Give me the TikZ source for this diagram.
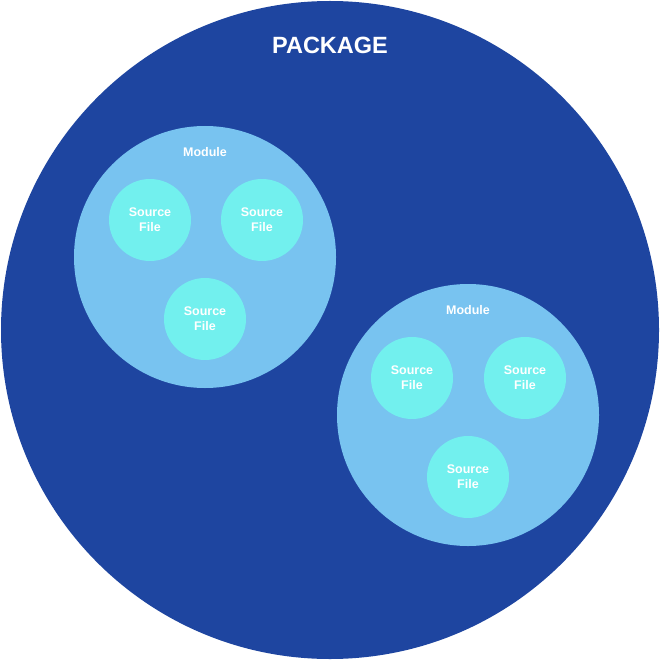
\documentclass[tikz,border=0pt]{standalone}
\usepackage{fontspec}
\setmainfont{Liberation Sans}
\definecolor{pkgblue}{RGB}{30,69,160}
\definecolor{modblue}{RGB}{120,195,240}
\definecolor{srccyan}{RGB}{114,240,238}
\begin{document}
\begin{tikzpicture}[x=1pt,y=-1pt,
  pkg/.style={circle,fill=pkgblue,minimum size=658pt,inner sep=0pt},
  modcircle/.style={circle,fill=modblue,minimum size=262pt,inner sep=0pt},
  srcfile/.style={circle,fill=srccyan,minimum size=82pt,inner sep=0pt,text=white,font=\bfseries\fontsize{12.5}{15}\selectfont,align=center},
  lbl/.style={text=white,font=\bfseries\fontsize{12.5}{15}\selectfont}]
\useasboundingbox (0,0) rectangle (660,660);
\node[pkg] (package) at (330,330) {};
\node[text=white,font=\bfseries\fontsize{23.5}{28}\selectfont] (pkglabel) at (330,45) {PACKAGE};
\node[modcircle] (m1) at (205,257) {};
\node[lbl] (m1label) at (205,152) {Module};
\node[srcfile] (s11) at (150,220) {Source\\File};
\node[srcfile] (s12) at (262,220) {Source\\File};
\node[srcfile] (s13) at (205,319) {Source\\File};
\node[modcircle] (m2) at (468,415) {};
\node[lbl] (m2label) at (468,310) {Module};
\node[srcfile] (s21) at (412,378) {Source\\File};
\node[srcfile] (s22) at (525,378) {Source\\File};
\node[srcfile] (s23) at (468,477) {Source\\File};
\end{tikzpicture}
\end{document}
